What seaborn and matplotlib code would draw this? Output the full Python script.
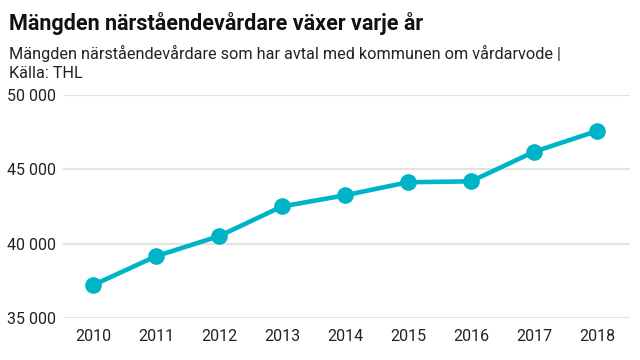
import matplotlib
matplotlib.use('Agg')
import matplotlib.pyplot as plt
import matplotlib.ticker as ticker
import seaborn as sns
import pandas as pd

# data
years = [2010, 2011, 2012, 2013, 2014, 2015, 2016, 2017, 2018]
caregivers = [37200, 39150, 40500, 42500, 43250, 44130, 44190, 46180, 47580]
yticks = [35000, 40000, 45000, 50000]

title = 'Mängden närståendevårdare växer varje år'
subtitle = 'Mängden närståendevårdare som har avtal med kommunen om vårdarvode |\nKälla: THL'

df = pd.DataFrame({'year': years, 'n': caregivers})

sns.set_style('white')
plt.rcParams['font.family'] = ['Roboto', 'DejaVu Sans']

fig = plt.figure(figsize=(6.4, 3.6), dpi=100)
ax = fig.add_axes([0.098, 0.117, 0.886, 0.619])

sns.lineplot(data=df, x='year', y='n', ax=ax, color='#00b4c8', linewidth=3.3,
             marker='o', markersize=12, markeredgewidth=0, clip_on=False, zorder=3)

ax.set_xlim(2009.52, 2018.52)
ax.set_ylim(35000, 50000)
ax.set_yticks(yticks)
ax.set_xticks(years)
ax.yaxis.set_major_formatter(ticker.FuncFormatter(lambda v, p: f'{int(v):,}'.replace(',', ' ')))
ax.grid(axis='y', color='#e3e3e3', linewidth=1.5)
ax.grid(axis='x', visible=False)
for s in ax.spines.values():
    s.set_visible(False)
ax.tick_params(axis='both', length=0, labelsize=11.5, colors='#222222')
ax.tick_params(axis='y', pad=5)
ax.tick_params(axis='x', pad=8)
ax.set_xlabel('')
ax.set_ylabel('')

fig.text(0.014, 0.935, title, fontsize=15.5, fontweight='bold', color='#111111', va='center')
fig.text(0.014, 0.825, subtitle, fontsize=11.7, color='#222222', va='center', linespacing=1.3)

fig.savefig('out.png', dpi=100)
